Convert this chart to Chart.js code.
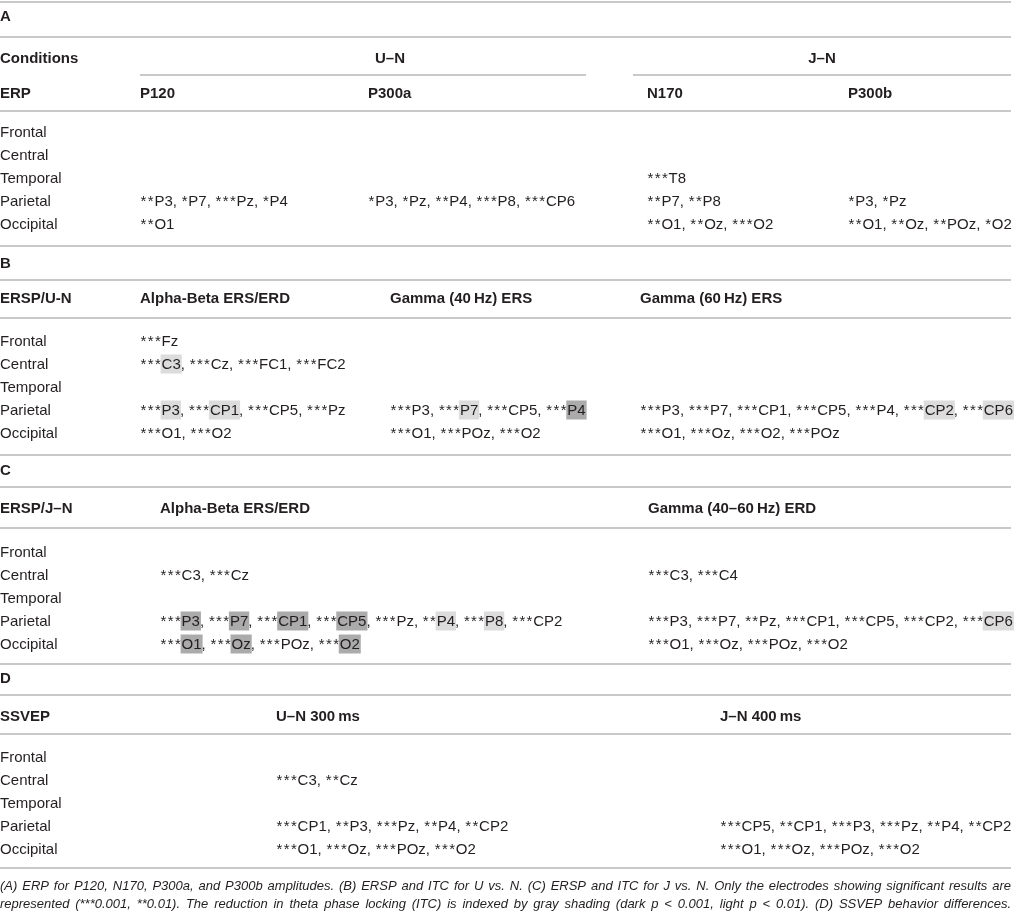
<!DOCTYPE html>
<html>
<head>
<meta charset="utf-8">
<script src="https://cdn.jsdelivr.net/npm/chart.js@4.4.0/dist/chart.umd.min.js"></script>
<style>
  html, body { margin: 0; padding: 0; background: #fff; }
  #wrap { width: 1014px; height: 915px; }
</style>
</head>
<body>
<div id="wrap"><canvas id="tabla" width="1014" height="915"></canvas></div>
<script>
// Datos de la tabla
const regiones = ["Frontal", "Central", "Temporal", "Parietal", "Occipital"];

// Panel A
const gruposA = ["U–N", "J–N"];
const columnasA = ["P120", "P300a", "N170", "P300b"];
const celdasA = [
  ["", "", "", ""],
  ["", "", "", ""],
  ["", "", "***T8", ""],
  ["**P3, *P7, ***Pz, *P4", "*P3, *Pz, **P4, ***P8, ***CP6", "**P7, **P8", "*P3, *Pz"],
  ["**O1", "", "**O1, **Oz, ***O2", "**O1, **Oz, **POz, *O2"],
];

// Panel B  ([..] sombra clara, {..} sombra oscura)
const columnasB = ["Alpha-Beta ERS/ERD", "Gamma (40\u2009Hz) ERS", "Gamma (60\u2009Hz) ERS"];
const celdasB = [
  ["***Fz", "", ""],
  ["***[C3], ***Cz, ***FC1, ***FC2", "", ""],
  ["", "", ""],
  ["***[P3], ***[CP1], ***CP5, ***Pz", "***P3, ***[P7], ***CP5, ***{P4}", "***P3, ***P7, ***CP1, ***CP5, ***P4, ***[CP2], ***[CP6]"],
  ["***O1, ***O2", "***O1, ***POz, ***O2", "***O1, ***Oz, ***O2, ***POz"],
];

// Panel C
const columnasC = ["Alpha-Beta ERS/ERD", "Gamma (40–60\u2009Hz) ERD"];
const celdasC = [
  ["", ""],
  ["***C3, ***Cz", "***C3, ***C4"],
  ["", ""],
  ["***{P3}, ***{P7}, ***{CP1}, ***{CP5}, ***Pz, **[P4], ***[P8], ***CP2", "***P3, ***P7, **Pz, ***CP1, ***CP5, ***CP2, ***[CP6]"],
  ["***{O1}, ***{Oz}, ***POz, ***{O2}", "***O1, ***Oz, ***POz, ***O2"],
];

// Panel D
const columnasD = ["U–N 300\u2009ms", "J–N 400\u2009ms"];
const celdasD = [
  ["", ""],
  ["***C3, **Cz", ""],
  ["", ""],
  ["***CP1, **P3, ***Pz, **P4, **CP2", "***CP5, **CP1, ***P3, ***Pz, **P4, **CP2"],
  ["***O1, ***Oz, ***POz, ***O2", "***O1, ***Oz, ***POz, ***O2"],
];

const nota = [
  "(A) ERP for P120, N170, P300a, and P300b amplitudes. (B) ERSP and ITC for U vs. N. (C) ERSP and ITC for J vs. N. Only the electrodes showing significant results are",
  "represented (***0.001, **0.01). The reduction in theta phase locking (ITC) is indexed by gray shading (dark p < 0.001, light p < 0.01). (D) SSVEP behavior differences.",
];

document.addEventListener("DOMContentLoaded", function () {
  const FUENTE = "'Liberation Sans', Arial, sans-serif";
  const NEGRO = "#231f20";
  const LINEA = "#c9c9c9";
  const ANCHO = 1011;
  const AST = 7.2; // avance de cada asterisco
  const DY = 1.5; // ajuste vertical del texto

  const tablaPlugin = {
    id: "tablaPlugin",
    afterDraw(chart) {
      const ctx = chart.ctx;
      const sx = chart.scales.x;
      const sy = chart.scales.y;
      const px = (v) => sx.getPixelForValue(v);
      const py = (v) => sy.getPixelForValue(v);

      ctx.save();
      ctx.textBaseline = "middle";

      function linea(y, x0, x1) {
        ctx.strokeStyle = LINEA;
        ctx.lineWidth = 2;
        ctx.beginPath();
        ctx.moveTo(px(x0 === undefined ? 0 : x0), py(y));
        ctx.lineTo(px(x1 === undefined ? ANCHO : x1), py(y));
        ctx.stroke();
      }

      function texto(t, x, y, negrita, centro) {
        ctx.font = (negrita ? "bold " : "") + "15px " + FUENTE;
        ctx.fillStyle = NEGRO;
        ctx.textAlign = centro ? "center" : "left";
        ctx.fillText(t, px(x), py(y + DY));
        ctx.textAlign = "left";
      }

      // celda con asteriscos y sombreado
      function celda(t, x, y) {
        if (!t) return;
        ctx.font = "15px " + FUENTE;
        ctx.textAlign = "left";
        let cx = px(x);
        const cy = py(y + DY);
        const partes = t.match(/(\[[^\]]*\]|\{[^}]*\}|\*+|[^\[\{\*]+)/g);
        partes.forEach((p) => {
          if (p[0] === "*") {
            ctx.fillStyle = NEGRO;
            for (let i = 0; i < p.length; i++) {
              ctx.fillText("*", cx + 0.6, cy);
              cx += AST;
            }
          } else if (p[0] === "[" || p[0] === "{") {
            const s = p.slice(1, -1);
            const w = ctx.measureText(s).width;
            ctx.fillStyle = p[0] === "[" ? "#dcdcdc" : "#ababab";
            ctx.fillRect(cx - 1, cy - 10, w + 2, 19);
            ctx.fillStyle = NEGRO;
            ctx.fillText(s, cx, cy);
            cx += w;
          } else {
            ctx.fillStyle = NEGRO;
            ctx.fillText(p, cx, cy);
            cx += ctx.measureText(p).width;
          }
        });
      }

      function filas(celdas, xs, y0) {
        regiones.forEach((r, i) => {
          const y = y0 + i * 23;
          texto(r, 0, y, false);
          celdas[i].forEach((c, j) => celda(c, xs[j], y));
        });
      }

      // Panel A
      linea(2);
      texto("A", 0, 15, true);
      linea(37);
      texto("Conditions", 0, 57, true);
      texto(gruposA[0], 390, 57, true, true);
      texto(gruposA[1], 822, 57, true, true);
      linea(75, 140, 586);
      linea(75, 633, ANCHO);
      texto("ERP", 0, 92, true);
      const xsA = [140, 368, 647, 848];
      columnasA.forEach((c, j) => texto(c, xsA[j], 92, true));
      linea(111);
      filas(celdasA, xsA, 131);
      linea(246);

      // Panel B
      texto("B", 0, 262, true);
      linea(280);
      texto("ERSP/U-N", 0, 297, true);
      const xsB = [140, 390, 640];
      columnasB.forEach((c, j) => texto(c, xsB[j], 297, true));
      linea(318);
      filas(celdasB, xsB, 340);
      linea(455);

      // Panel C
      texto("C", 0, 469, true);
      linea(487);
      texto("ERSP/J–N", 0, 507, true);
      const xsC = [160, 648];
      columnasC.forEach((c, j) => texto(c, xsC[j], 507, true));
      linea(528);
      filas(celdasC, xsC, 551);
      linea(664);

      // Panel D
      texto("D", 0, 677, true);
      linea(695);
      texto("SSVEP", 0, 715, true);
      const xsD = [276, 720];
      columnasD.forEach((c, j) => texto(c, xsD[j], 715, true));
      linea(734);
      filas(celdasD, xsD, 756);
      linea(868);

      // Nota al pie, justificada
      ctx.font = "italic 13px " + FUENTE;
      ctx.fillStyle = NEGRO;
      nota.forEach((l, k) => {
        const palabras = l.split(" ");
        const total = palabras.reduce((a, w) => a + ctx.measureText(w).width, 0);
        const hueco = (ANCHO - total) / (palabras.length - 1);
        let cx = px(0);
        palabras.forEach((w) => {
          ctx.fillText(w, cx, py(886 + k * 18));
          cx += ctx.measureText(w).width + hueco;
        });
      });
      ctx.restore();
    },
  };

  const contexto = document.getElementById("tabla").getContext("2d");
  new Chart(contexto, {
    type: "scatter",
    data: { datasets: [{ data: [], pointRadius: 0 }] },
    options: {
      responsive: false,
      animation: false,
      layout: { padding: 0 },
      plugins: { legend: { display: false }, tooltip: { enabled: false } },
      scales: {
        x: { type: "linear", min: 0, max: 1014, display: false },
        y: { type: "linear", min: 0, max: 915, reverse: true, display: false },
      },
    },
    plugins: [tablaPlugin],
  });
});
</script>
</body>
</html>
